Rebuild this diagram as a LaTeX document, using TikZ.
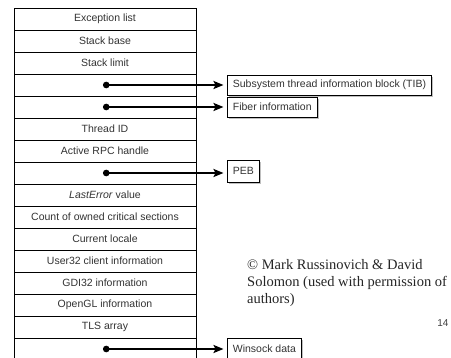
\documentclass[tikz,border=0pt]{standalone}
\usepackage{fontspec}
\setmainfont{Liberation Serif}
\setsansfont{Liberation Sans}
\usetikzlibrary{arrows.meta,shadows}
\begin{document}
\begin{tikzpicture}[x=1pt,y=-1pt,
  rowbox/.style={draw=black,line width=0.8pt,minimum width=182pt,minimum height=22pt,inner sep=0pt,
    font=\sffamily\fontsize{10.5}{12}\selectfont,text=black!80},
  tgtbox/.style={draw=black,line width=0.8pt,fill=white,anchor=west,minimum height=20pt,inner xsep=5.5pt,inner ysep=0pt,
    font=\sffamily\fontsize{10.5}{12}\selectfont,text=black!80,
    drop shadow={shadow xshift=1.8pt,shadow yshift=-1.8pt,fill=black!25,opacity=1}},
  ptr/.style={line width=2.2pt,shorten >=3.5pt,{Circle[length=6.5pt]}-{Stealth[length=10pt,width=8pt,inset=2pt]}}]
\useasboundingbox (0,0) rectangle (451,358);
\clip (0,0) rectangle (451,358);
\fill[white] (0,0) rectangle (451,358);
% table rows
\node[rowbox] (r1) at (105,19) {Exception list};
\node[rowbox] (r2) at (105,41) {Stack base};
\node[rowbox] (r3) at (105,63) {Stack limit};
\node[rowbox] (r4) at (105,85) {};
\node[rowbox] (r5) at (105,107) {};
\node[rowbox] (r6) at (105,129) {Thread ID};
\node[rowbox] (r7) at (105,151) {Active RPC handle};
\node[rowbox] (r8) at (105,173) {};
\node[rowbox] (r9) at (105,195) {\textit{LastError} value};
\node[rowbox] (r10) at (105,217) {Count of owned critical sections};
\node[rowbox] (r11) at (105,239) {Current locale};
\node[rowbox] (r12) at (105,261) {User32 client information};
\node[rowbox] (r13) at (105,283) {GDI32 information};
\node[rowbox] (r14) at (105,305) {OpenGL information};
\node[rowbox] (r15) at (105,327) {TLS array};
\node[rowbox] (r16) at (105,349) {};
% pointer origins
\coordinate (d4) at (103,85);
\coordinate (d5) at (103,107);
\coordinate (d8) at (103,173);
\coordinate (d16) at (103,349);
% targets
\node[tgtbox] (tib) at (227,85) {Subsystem thread information block (TIB)};
\node[tgtbox] (fib) at (227,107) {Fiber information};
\node[tgtbox,minimum height=22pt] (peb) at (227,171) {PEB};
\node[tgtbox,minimum height=22pt] (win) at (227,349) {Winsock data};
% pointers
\draw[ptr] (d4) -- (tib.west);
\draw[ptr] (d5) -- (fib.west);
\draw[ptr] (d8) -- (d8 -| peb.west);
\draw[ptr] (d16) -- (win.west);
% copyright
\node[anchor=north west,inner sep=0pt,align=left,font=\fontsize{14.5}{17}\selectfont,text=black!85] (copy) at (247,259)
  {© Mark Russinovich \& David\\Solomon (used with permission of\\authors)};
\node[font=\sffamily\fontsize{10}{12}\selectfont,text=black!75,inner sep=0pt] (pg) at (443,323) {14};
\end{tikzpicture}
\end{document}
